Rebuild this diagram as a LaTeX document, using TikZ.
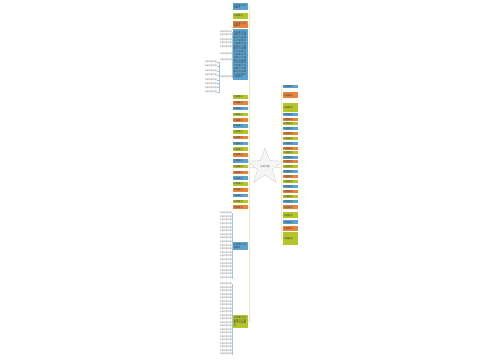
\documentclass[tikz,border=0pt]{standalone}
\usepackage{fontspec}
\newfontfamily\cjk{Noto Sans CJK SC}
\XeTeXlinebreaklocale "zh"
\XeTeXlinebreakskip=0pt plus 1pt
\usetikzlibrary{shapes.geometric}

\definecolor{mmblue}{HTML}{5BA3D0}
\definecolor{mmgreen}{HTML}{B3C52B}
\definecolor{mmorange}{HTML}{E8843C}
\definecolor{mmtrunk}{HTML}{EFE6C2}
\definecolor{mmtwig}{HTML}{A9C3D6}

\newcommand\BoxText{内容要点}

\begin{document}
\begin{tikzpicture}
	[x=1pt,y=-1pt,
	 box/.style={inner sep=0.4pt,minimum width=14.5pt,text width=13.7pt,align=left,
	   anchor=north west,font=\cjk\fontsize{2.3}{2.8}\selectfont,text=black!75},
	 leaf/.style={inner sep=0pt,anchor=east,font=\cjk\fontsize{2}{2.4}\selectfont,text=black!55},
	 trunk/.style={draw=mmtrunk,line width=0.8pt},
	 twig/.style={draw=mmtwig,line width=0.25pt}]

	\useasboundingbox (0,0) rectangle (500,360);

	% root
	\node[star,star points=5,star point ratio=2.4,minimum size=38pt,inner sep=0pt,
	      fill=gray!8,draw=gray!35,line width=0.4pt,
	      font=\cjk\fontsize{2.4}{2.8}\selectfont,text=black!60] (root) at (265,167) {主题内容};
	\coordinate (lt) at (249,167);
	\coordinate (rt) at (281,167);

	% left column, top part
	\begin{scope}
		\node[box,fill=mmblue,minimum height=7.3pt] (l1) at (233,2.7) {\BoxText\BoxText};
		\node[box,fill=mmgreen,minimum height=5.6pt] (l2) at (233,12.7) {\BoxText};
		\node[box,fill=mmorange,minimum height=6.7pt] (l3) at (233,21) {\BoxText\BoxText};
		\node[box,fill=mmblue,minimum height=51pt] (l4) at (233,29)
			{\BoxText\BoxText\BoxText\BoxText\BoxText\BoxText\BoxText\BoxText\BoxText\BoxText
			 \BoxText\BoxText\BoxText\BoxText\BoxText\BoxText\BoxText\BoxText\BoxText\BoxText\BoxText};
		\foreach \n in {1,...,4}
			\draw[trunk] (lt) |- (l\n.east);
	\end{scope}

	% left column, small boxes
	\foreach \i/\c in {0/mmgreen,1/mmorange,2/mmblue,3/mmgreen,4/mmorange,5/mmblue,6/mmgreen,
	                   7/mmorange,8/mmblue,9/mmgreen,10/mmorange,11/mmblue,12/mmgreen,13/mmorange,
	                   14/mmblue,15/mmgreen,16/mmorange,17/mmblue,18/mmgreen,19/mmorange} {
		\node[box,fill=\c,minimum height=3.6pt] (s\i) at (233,95+5.8*\i) {\BoxText};
		\draw[trunk] (lt) |- (s\i.east);
	}

	% left column, bottom boxes
	\node[box,fill=mmblue,minimum height=8pt] (b1) at (233,242) {\BoxText\BoxText};
	\node[box,fill=mmgreen,minimum height=13pt] (b2) at (233,315) {\BoxText\BoxText\BoxText\BoxText};
	\draw[trunk] (lt) |- (b1.east);
	\draw[trunk] (lt) |- (b2.east);
	\draw[trunk] (root.west) -- (lt);

	% right column
	\foreach \y/\h/\c [count=\i] in {85/3/mmblue,92/6/mmorange,103/9/mmgreen,113/3/mmblue,
	                   117.5/3/mmorange,122/3/mmgreen,127/3/mmblue,132/3/mmorange,137/3/mmgreen,
	                   142/3/mmblue,146.5/3/mmorange,151/3/mmgreen,155.5/3/mmblue,160/3/mmorange,
	                   165/3/mmgreen,170/3/mmblue,175/3/mmorange,180/3/mmgreen,185/3/mmblue,
	                   190/3/mmorange,195/3/mmgreen,200/3/mmblue,205/4/mmorange,212/6/mmgreen,
	                   220/4/mmblue,226/5/mmorange,232/13/mmgreen} {
		\node[box,fill=\c,minimum height=\h pt] (r\i) at (283,\y) {\BoxText};
		\draw[trunk] (rt) |- (r\i.west);
	}
	\draw[trunk] (root.east) -- (rt);

	% leaves of l4
	\foreach \y [count=\j] in {31.7,35,39.3,42.7,46.7,53.3,59.3,76.7} {
		\node[leaf] (a\j) at (232,\y) {内容内容内容};
		\draw[twig] (l4.west) -- ++(-0.6,0) |- (a\j.east);
	}
	\foreach \y [count=\j] in {61.7,66,70.7,75,80,83.3,87.3,91.7} {
		\node[leaf] (aa\j) at (217,\y) {内容内容内容};
		\draw[twig] (a8.west) -- ++(-0.6,0) |- (aa\j.east);
	}

	% leaves of b1 and b2
	\foreach \j in {0,...,18} {
		\node[leaf] (c\j) at (232,213+3.6*\j) {内容内容内容};
		\draw[twig] (b1.west) -- ++(-0.6,0) |- (c\j.east);
	}
	\foreach \j in {0,...,20} {
		\node[leaf] (d\j) at (232,284+3.5*\j) {内容内容内容};
		\draw[twig] (b2.west) -- ++(-0.6,0) |- (d\j.east);
	}

\end{tikzpicture}
\end{document}
